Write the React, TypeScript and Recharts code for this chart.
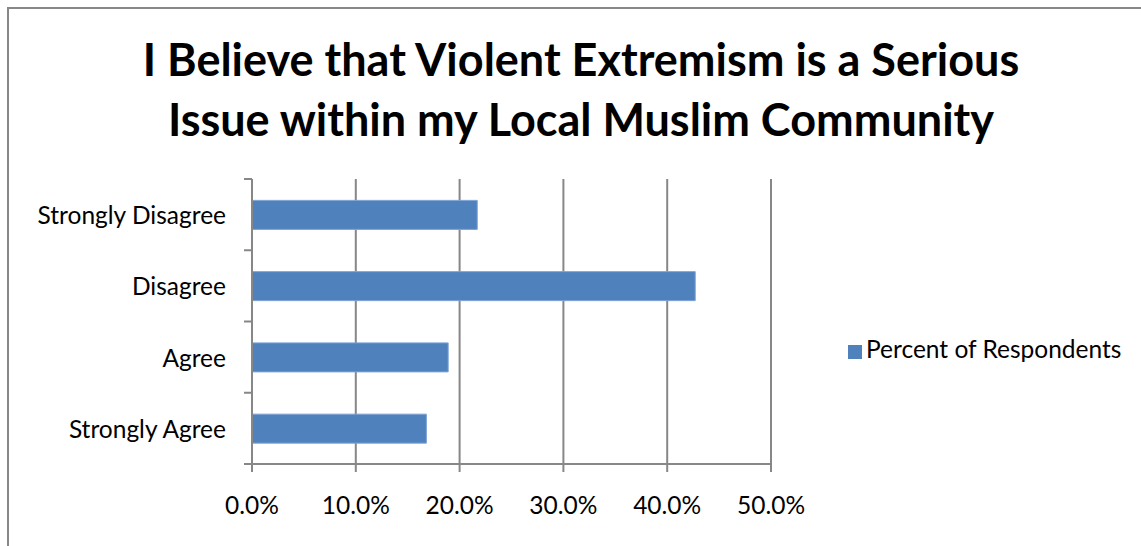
import React from 'react';
import { BarChart, Bar, XAxis, YAxis, CartesianGrid, Legend } from 'recharts';

const categories = ['Strongly Disagree', 'Disagree', 'Agree', 'Strongly Agree'];
const percentValues = [21.7, 42.7, 18.9, 16.8];
const xTicks = [0, 10, 20, 30, 40, 50];

const seriesName = 'Percent of Respondents';
const barColor = '#4f81bd';
const axisColor = '#878787';
const fontFamily = 'Lato, "Open Sans", sans-serif';
const labelGap = 26; // tickSize (6) + tickMargin (20)

const data = categories.map((name, i) => ({ name, value: percentValues[i] }));

// Подпись категории + засечки на границах категорий (как в Excel)
const CategoryTick = (props: any) => {
  const { x, y, payload, index, visibleTicksCount } = props;
  const half = payload?.offset ?? 0;
  const axisX = x + labelGap;
  return (
    <g>
      <line x1={axisX - 8} x2={axisX} y1={y - half} y2={y - half} stroke={axisColor} strokeWidth={2} />
      {index === visibleTicksCount - 1 && (
        <line x1={axisX - 8} x2={axisX} y1={y + half} y2={y + half} stroke={axisColor} strokeWidth={2} />
      )}
      <text x={x} y={y} textAnchor="end" dominantBaseline="central" fill="#000" fontSize={24.5} fontFamily={fontFamily}>
        {payload.value}
      </text>
    </g>
  );
};

const App: React.FC = () => {
  return (
    <div style={{ position: 'absolute', left: 0, top: 0, width: 1141, height: 546, background: '#fff', overflow: 'hidden' }}>
      {/* рамка диаграммы */}
      <div
        style={{
          position: 'absolute',
          left: 7,
          top: 7,
          width: 1150,
          height: 560,
          borderLeft: `2px solid ${axisColor}`,
          borderTop: `2px solid ${axisColor}`,
        }}
      />
      <div
        style={{
          position: 'absolute',
          left: 0,
          top: 29,
          width: 1162,
          textAlign: 'center',
          fontFamily,
          fontWeight: 700,
          fontSize: 45,
          lineHeight: '60px',
          color: '#000',
        }}
      >
        I Believe that Violent Extremism is a Serious
        <br />
        Issue within my Local Muslim Community
      </div>
      <div style={{ position: 'absolute', left: 0, top: 0 }}>
        <BarChart
          width={1141}
          height={546}
          data={data}
          layout="vertical"
          barCategoryGap="30%"
          margin={{ top: 179, right: 70, left: 0, bottom: 0 }}
        >
          <CartesianGrid horizontal={false} vertical={true} stroke={axisColor} strokeWidth={2} />
          <XAxis
            type="number"
            domain={[0, 50]}
            ticks={xTicks}
            interval={0}
            tickFormatter={(v: number) => `${v.toFixed(1)}%`}
            stroke={axisColor}
            strokeWidth={2}
            tickSize={8}
            tickMargin={25}
            tick={{ fill: '#000', fontSize: 24.5, fontFamily }}
            height={82}
          />
          <YAxis
            type="category"
            dataKey="name"
            stroke={axisColor}
            strokeWidth={2}
            tickLine={false}
            tickSize={6}
            tickMargin={20}
            width={252}
            interval={0}
            tick={<CategoryTick />}
          />
          <Legend
            layout="vertical"
            align="right"
            verticalAlign="middle"
            iconType="square"
            iconSize={14}
            wrapperStyle={{ left: 848, top: 334, width: 300, fontFamily, fontSize: 24.5, color: '#000' }}
            formatter={(value: string) => <span style={{ color: '#000' }}>{value}</span>}
          />
          <Bar dataKey="value" name={seriesName} fill={barColor} stroke="#7ea3d6" strokeWidth={1} isAnimationActive={false} />
        </BarChart>
      </div>
    </div>
  );
};

export default App;
